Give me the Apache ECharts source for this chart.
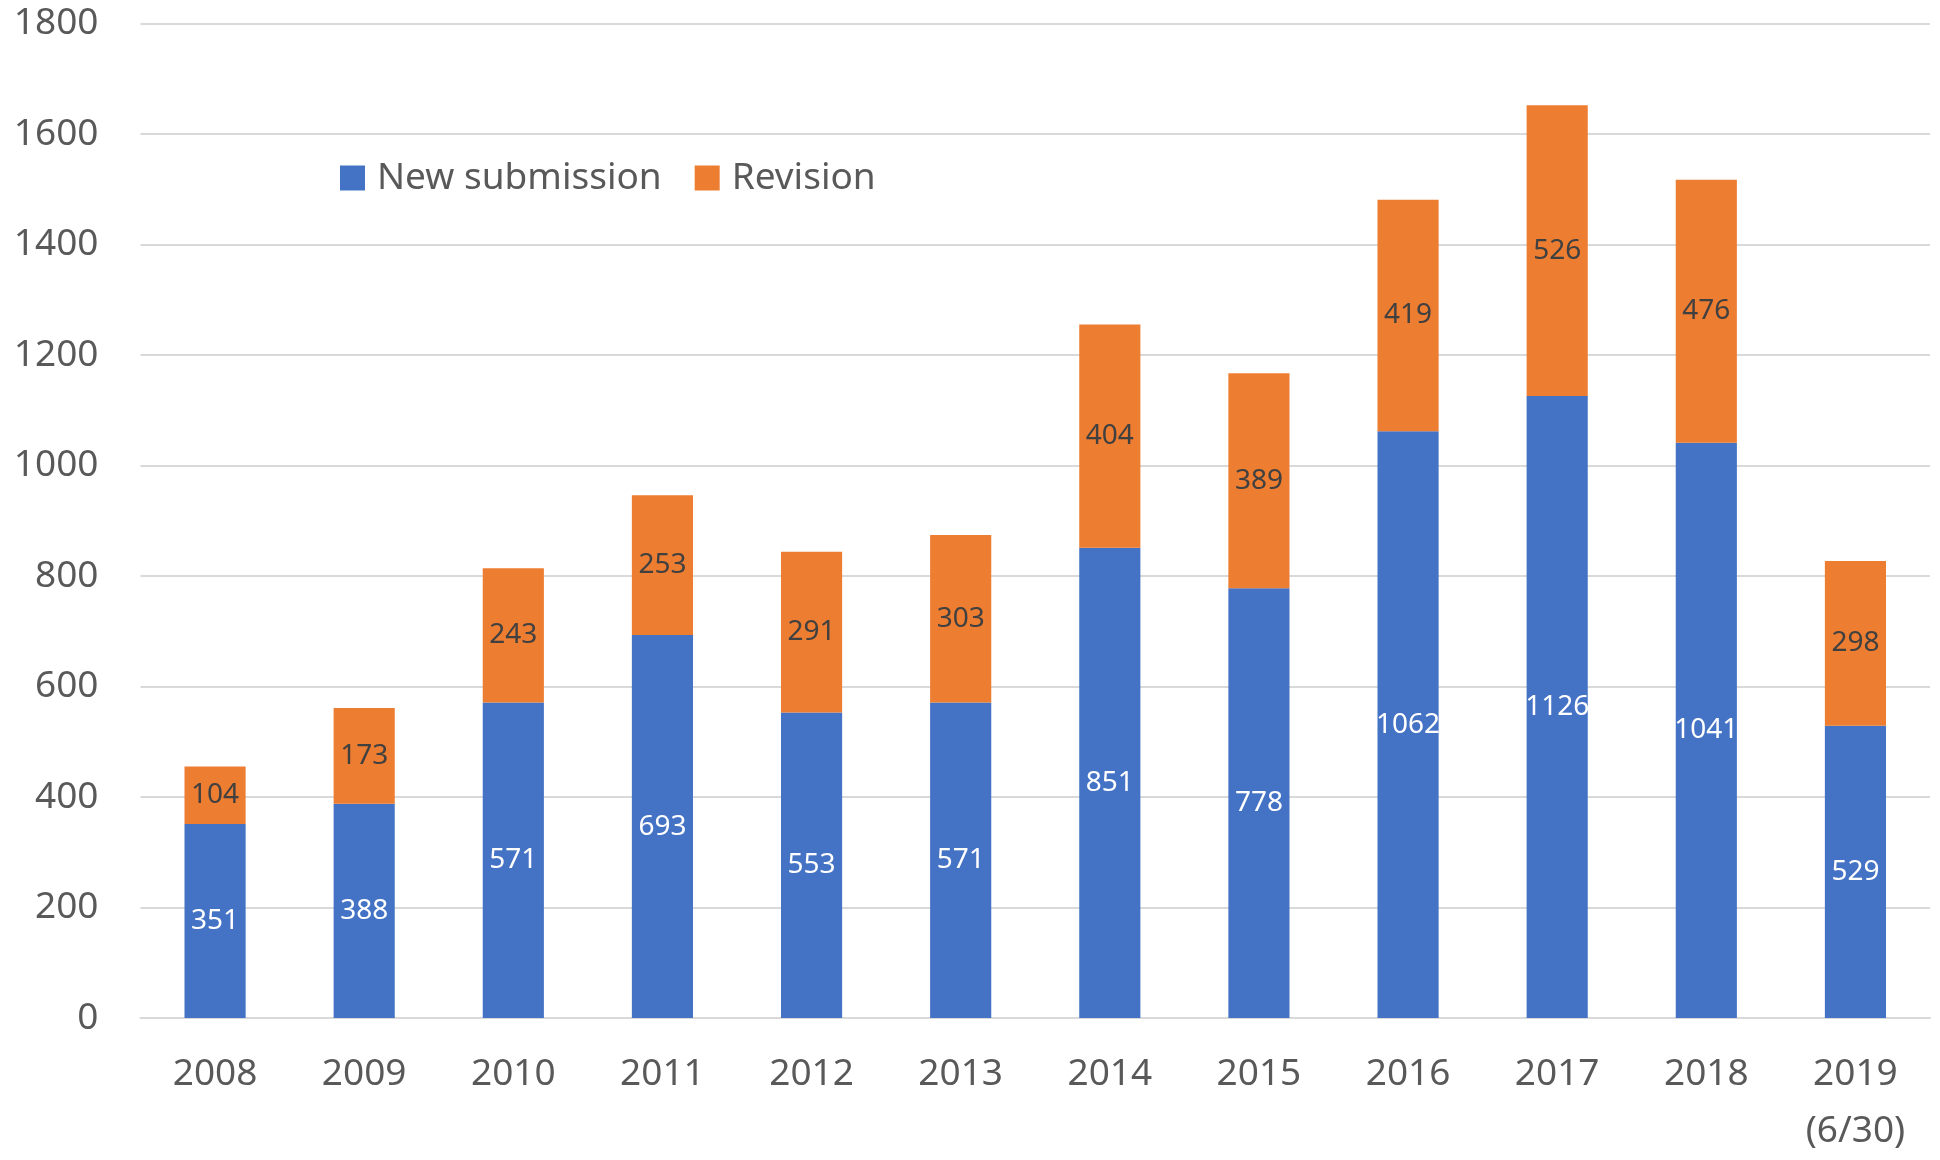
<!DOCTYPE html>
<html>
<head>
<meta charset="utf-8">
<script src="https://cdn.jsdelivr.net/npm/echarts@6/dist/echarts.min.js"></script>
<style>
html,body{margin:0;padding:0;background:#fff;}
#chart{width:1940px;height:1160px;}
</style>
</head>
<body>
<div id="chart"></div>
<script>
const categories = ['2008','2009','2010','2011','2012','2013','2014','2015','2016','2017','2018','2019\n(6/30)'];
const newSubmission = [351,388,571,693,553,571,851,778,1062,1126,1041,529];
const revision = [104,173,243,253,291,303,404,389,419,526,476,298];
const seriesNames = ['New submission','Revision'];

const FONT = '"Noto Sans", "Open Sans", sans-serif';
const chart = echarts.init(document.getElementById('chart'), null, {renderer:'canvas'});
chart.setOption({
  animation: false,
  backgroundColor: '#ffffff',
  textStyle: {fontFamily: FONT},
  grid: {left: 140.5, right: 10, top: 23.5, bottom: 132, containLabel: false},
  legend: {
    data: seriesNames,
    left: 335, top: 151,
    icon: 'rect', itemWidth: 25, itemHeight: 25, itemGap: 33,
    textStyle: {fontFamily: FONT, fontSize: 37, color: '#595959', lineHeight: 44, padding: [0,0,0,7]}
  },
  xAxis: {
    type: 'category',
    data: categories,
    axisLine: {show: true, lineStyle: {color: '#D9D9D9', width: 2}},
    axisTick: {show: false},
    axisLabel: {fontFamily: FONT, fontSize: 37, color: '#595959', margin: 28, lineHeight: 57, interval: 0}
  },
  yAxis: {
    type: 'value', min: 0, max: 1800, interval: 200,
    axisLine: {show: false}, axisTick: {show: false},
    splitLine: {lineStyle: {color: '#D9D9D9', width: 2}},
    axisLabel: {fontFamily: FONT, fontSize: 37, color: '#595959', margin: 42, formatter: v => String(v)}
  },
  series: [
    {
      name: seriesNames[0], type: 'bar', stack: 'total', data: newSubmission,
      barCategoryGap: '59%',
      itemStyle: {color: '#4472C4'},
      label: {show: true, position: 'inside', color: '#ffffff', fontFamily: FONT, fontSize: 28}
    },
    {
      name: seriesNames[1], type: 'bar', stack: 'total', data: revision,
      barCategoryGap: '59%',
      itemStyle: {color: '#ED7D31'},
      label: {show: true, position: 'inside', color: '#404040', fontFamily: FONT, fontSize: 28}
    }
  ]
});
</script>
</body>
</html>
